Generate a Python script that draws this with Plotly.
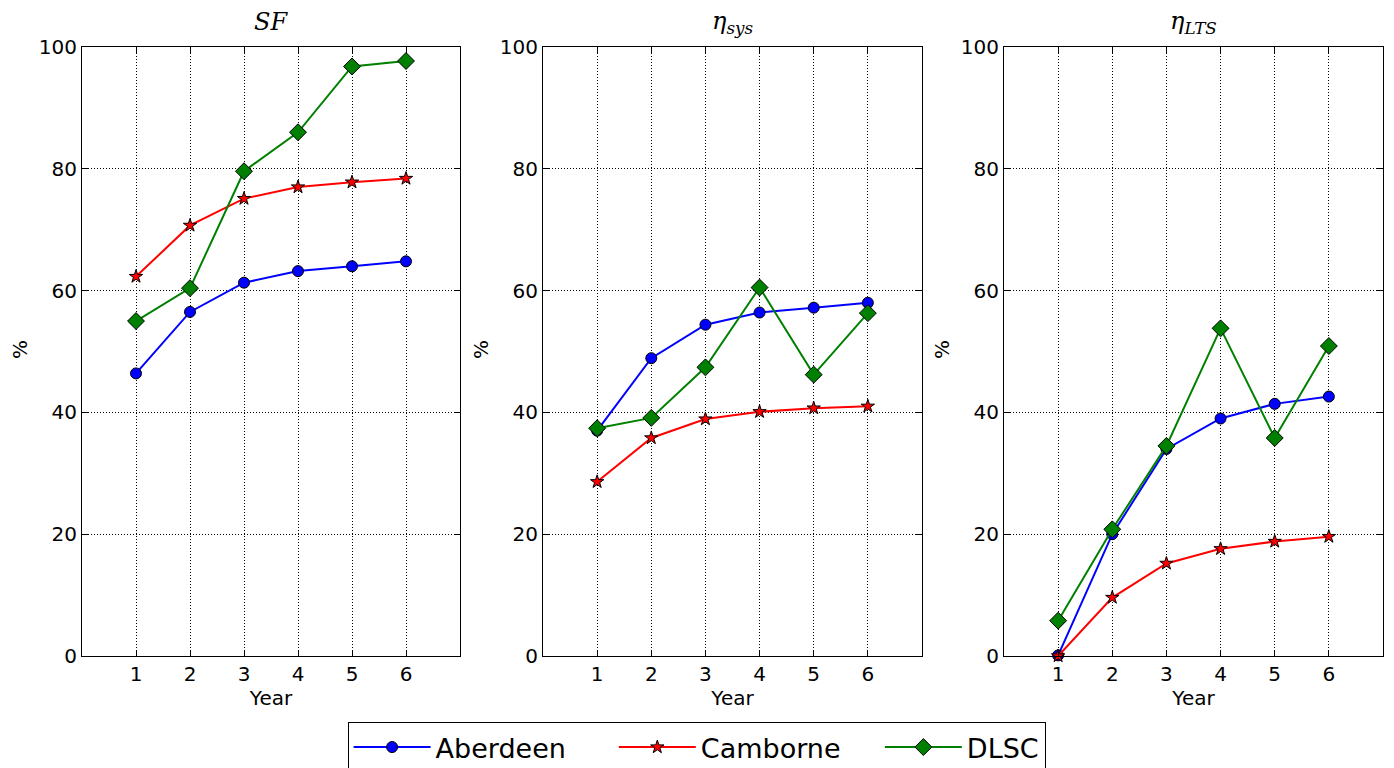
import plotly.graph_objects as go

years = [1, 2, 3, 4, 5, 6]
series_names = ["Aberdeen", "Camborne", "DLSC"]
legend_pad = [5, 4, 0]
panel_titles = ["<i>SF</i>", "<i>η</i><sub><i>sys</i></sub>", "<i>η</i><sub><i>LTS</i></sub>"]

sf_aberdeen = [46.4, 56.5, 61.3, 63.2, 64.0, 64.8]
sf_camborne = [62.3, 70.7, 75.1, 77.0, 77.8, 78.4]
sf_dlsc = [55.0, 60.4, 79.6, 86.0, 96.8, 97.7]

sys_aberdeen = [37.0, 48.9, 54.4, 56.4, 57.2, 58.0]
sys_camborne = [28.6, 35.8, 38.9, 40.1, 40.7, 41.0]
sys_dlsc = [37.4, 39.1, 47.4, 60.5, 46.2, 56.3]

lts_aberdeen = [0.1, 20.0, 34.0, 39.0, 41.4, 42.6]
lts_camborne = [0.0, 9.6, 15.2, 17.6, 18.8, 19.6]
lts_dlsc = [5.8, 20.8, 34.5, 53.8, 35.8, 50.9]

y_ticks = [0, 20, 40, 60, 80, 100]

panels = [
    [sf_aberdeen, sf_camborne, sf_dlsc],
    [sys_aberdeen, sys_camborne, sys_dlsc],
    [lts_aberdeen, lts_camborne, lts_dlsc],
]

colors = ["#0000ff", "#ff0000", "#008000"]
symbols = ["circle", "star", "diamond"]
msizes = [11, 10, 13]

W, H = 1394, 768
x_doms = [(82, 460), (543, 922), (1004, 1383)]
y_top, y_bot = 47, 656
FONT = "DejaVu Sans"

fig = go.Figure()
for p, data in enumerate(panels):
    ax = "" if p == 0 else str(p + 1)
    for s, vals in enumerate(data):
        fig.add_trace(go.Scatter(
            x=years, y=vals, mode="lines+markers",
            name=series_names[s] + "\u00a0" * legend_pad[s],
            showlegend=(p == 0),
            xaxis="x" + ax, yaxis="y" + ax,
            line=dict(color=colors[s], width=2),
            marker=dict(symbol=symbols[s], size=msizes[s], color=colors[s],
                        line=dict(color="black", width=1)),
            cliponaxis=False,
        ))

layout = dict(
    width=W, height=H,
    margin=dict(l=0, r=0, t=0, b=0, autoexpand=False),
    paper_bgcolor="white", plot_bgcolor="white",
    font=dict(family=FONT, color="black", size=20),
    legend=dict(orientation="h", x=0.4997, xanchor="center", y=1 - 722 / H, yanchor="top",
                bordercolor="black", borderwidth=1, font=dict(size=27, family=FONT),
                itemwidth=77),
    annotations=[],
)

for p in range(3):
    ax = "" if p == 0 else str(p + 1)
    x0, x1 = x_doms[p]
    common = dict(showline=True, linecolor="black", linewidth=1, mirror="ticks",
                  ticks="inside", ticklen=6, tickcolor="black",
                  showgrid=True, gridcolor="black", griddash="1px,2px", gridwidth=1,
                  zeroline=False, tickfont=dict(size=20, family=FONT), automargin=False)
    layout["xaxis" + ax] = dict(domain=[x0 / W, x1 / W], range=[0, 7], tickvals=years,
                                anchor="y" + ax,
                                title=dict(text="Year", font=dict(size=20, family=FONT), standoff=2),
                                **common)
    layout["yaxis" + ax] = dict(domain=[1 - y_bot / H, 1 - y_top / H], range=[0, 100],
                                tickvals=y_ticks, anchor="x" + ax, **common)
    cx = (x0 + x1) / 2 / W
    layout["annotations"].append(dict(text=panel_titles[p], x=cx, y=1 - 22 / H, xref="paper", yref="paper",
                                      xanchor="center", yanchor="middle",
                                      showarrow=False, font=dict(size=24, family="DejaVu Serif")))
    layout["annotations"].append(dict(text="%", x=(x0 - 62) / W, y=1 - 350 / H, xref="paper", yref="paper",
                                      xanchor="center", yanchor="middle",
                                      showarrow=False, textangle=-90, font=dict(size=20, family=FONT)))

fig.update_layout(**layout)
fig.write_html("out.html")
